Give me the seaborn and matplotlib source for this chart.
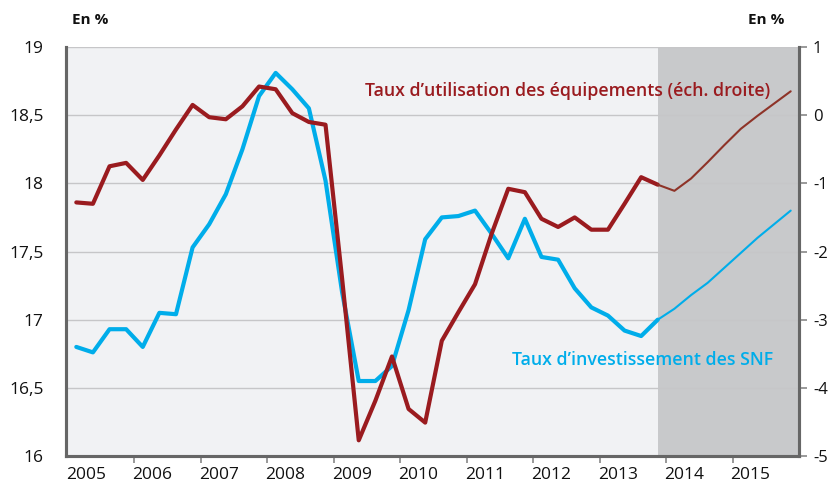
import numpy as np
import pandas as pd
import seaborn as sns
import matplotlib
matplotlib.use('Agg')
import matplotlib.pyplot as plt

# quarterly data, 2005Q1 - 2015Q4 (forecast from 2013Q4)
years = list(range(2005, 2016))
quarters = [y + (q + 0.5) / 4 for y in years for q in range(4)]

# taux d'investissement des SNF (left axis, %)
invest = [16.80, 16.76, 16.93, 16.93, 16.80, 17.05, 17.04, 17.53,
          17.70, 17.92, 18.25, 18.64, 18.81, 18.69, 18.55, 18.02,
          17.20, 16.55, 16.55, 16.66, 17.07, 17.59, 17.75, 17.76,
          17.80, 17.63, 17.45, 17.74, 17.46, 17.44, 17.23, 17.09,
          17.03, 16.92, 16.88, 17.00, 17.08, 17.18, 17.27, 17.38,
          17.49, 17.60, 17.70, 17.80]

# taux d'utilisation des equipements (right axis)
utilisation = [-1.28, -1.30, -0.75, -0.70, -0.95, -0.59, -0.21, 0.15,
               -0.03, -0.06, 0.13, 0.42, 0.38, 0.03, -0.10, -0.14,
               -2.40, -4.77, -4.19, -3.54, -4.31, -4.51, -3.31, -2.89,
               -2.48, -1.74, -1.08, -1.13, -1.52, -1.64, -1.50, -1.68,
               -1.68, -1.30, -0.91, -1.02, -1.11, -0.93, -0.69, -0.44,
               -0.20, -0.01, 0.17, 0.35]

forecast_start = 35  # index of 2013Q4

left_ticks = [16, 16.5, 17, 17.5, 18, 18.5, 19]
left_labels = ['16', '16,5', '17', '17,5', '18', '18,5', '19']
right_ticks = [-5, -4, -3, -2, -1, 0, 1]
right_labels = ['-5', '-4', '-3', '-2', '-1', '0', '1']

df = pd.DataFrame({'date': quarters, 'invest': invest, 'util': utilisation})
hist = df.iloc[:forecast_start + 1]
prev = df.iloc[forecast_start:]

sns.set_theme(style='white')
plt.rcParams['font.family'] = ['Open Sans', 'DejaVu Sans']

blue = '#00adea'
red = '#9a1b1f'
red_fc = '#8e3328'
spine_col = '#666666'

fig = plt.figure(figsize=(8.31, 4.86), dpi=100)
ax = fig.add_axes([66 / 831, 30 / 486, 733 / 831, 409 / 486])
ax2 = ax.twinx()

ax.set_facecolor('#f1f2f4')
ax.axvspan(quarters[forecast_start], 2016, color='#c8c9cb', lw=0, zorder=0.2)

sns.lineplot(data=hist, x='date', y='invest', ax=ax, color=blue, lw=3.0)
sns.lineplot(data=prev, x='date', y='invest', ax=ax, color=blue, lw=1.5)
sns.lineplot(data=hist, x='date', y='util', ax=ax2, color=red, lw=3.0)
sns.lineplot(data=prev, x='date', y='util', ax=ax2, color=red_fc, lw=1.5)

ax.set_xlim(2005, 2016)
ax.set_ylim(16, 19)
ax2.set_ylim(-5, 1)

ax.set_yticks(left_ticks)
ax.set_yticklabels(left_labels)
ax2.set_yticks(right_ticks)
ax2.set_yticklabels(right_labels)

ax.set_xticks(list(range(2006, 2016)))
ax.set_xticklabels([])
ax.set_xticks([y - 0.03 for y in years], minor=True)
ax.set_xticklabels([str(y) for y in years], minor=True, ha='left')
ax.tick_params(axis='x', which='major', length=5, width=1.2, color='#888888', direction='out', bottom=True)
ax.tick_params(axis='x', which='minor', length=0, pad=8, labelsize=12.5, labelcolor='#111111')
ax.tick_params(axis='y', length=0, pad=16, labelsize=12.5, labelcolor='#111111')
ax2.tick_params(axis='y', length=6, width=1.2, color='#888888', pad=4, labelsize=12, labelcolor='#111111')

ax.grid(axis='y', color='#c6c6c8', lw=1.0)
ax.grid(axis='x', visible=False)
ax.set_axisbelow(True)

ax.set_xlabel('')
ax.set_ylabel('')
ax2.set_xlabel('')
ax2.set_ylabel('')

for a in (ax, ax2):
    a.spines['top'].set_visible(False)
    for s in ('left', 'right', 'bottom'):
        a.spines[s].set_color(spine_col)
        a.spines[s].set_linewidth(2.2)

ax.text(0.9604, 0.893, 'Taux d\u2019utilisation des équipements (éch. droite)',
        transform=ax.transAxes, ha='right', va='center', color=red,
        fontsize=12.8, fontweight='semibold')
ax.text(0.9645, 0.235, 'Taux d\u2019investissement des SNF',
        transform=ax.transAxes, ha='right', va='center', color=blue,
        fontsize=12.8, fontweight='semibold')

fig.text(90 / 831, 1 - 20 / 486, 'En %', ha='center', va='center', fontsize=11, fontweight='bold', color='#111111')
fig.text(766 / 831, 1 - 20 / 486, 'En %', ha='center', va='center', fontsize=11, fontweight='bold', color='#111111')

fig.savefig('out.png', dpi=100)
plt.close()
